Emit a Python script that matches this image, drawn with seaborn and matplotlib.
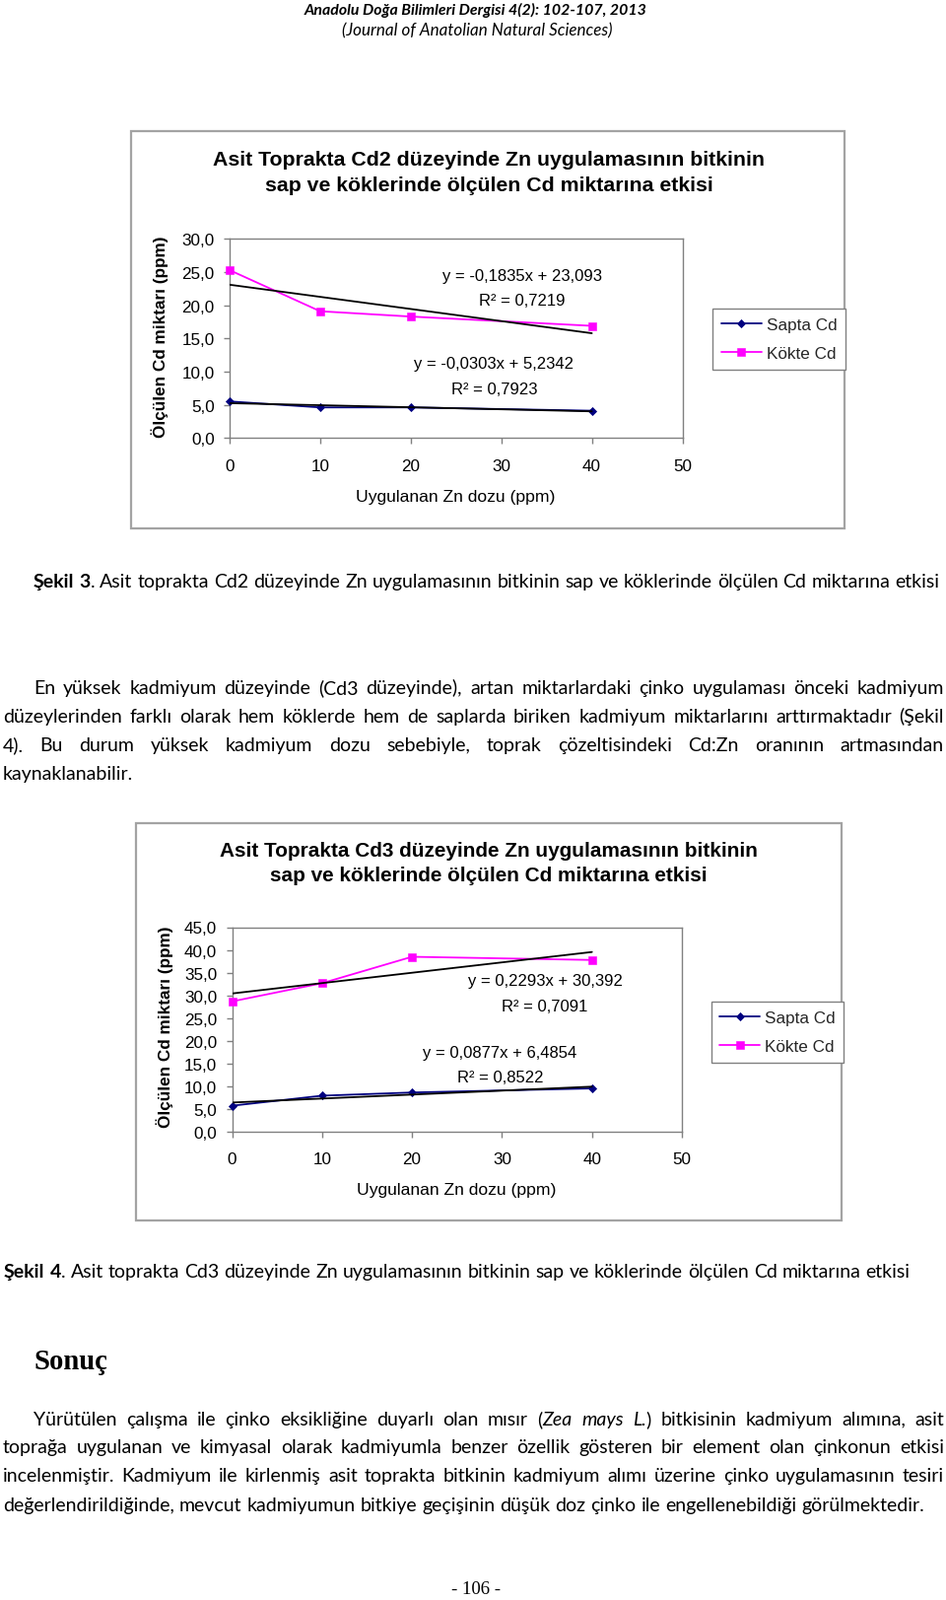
import re
import numpy as np
import pandas as pd
import matplotlib
matplotlib.use("Agg")
import matplotlib.pyplot as plt
from matplotlib.patches import Rectangle
import seaborn as sns

# ---------------- data ----------------
zn_doz = [0, 10, 20, 40]
seriler = ["Sapta Cd", "Kökte Cd"]
cd2_sapta = [5.5, 4.6, 4.6, 4.1]
cd2_kokte = [25.3, 19.1, 18.3, 16.9]
cd3_sapta = [5.8, 8.0, 8.7, 9.6]
cd3_kokte = [28.7, 32.7, 38.5, 37.8]

x_ticks = [0, 10, 20, 30, 40, 50]
x_tick_labels = ["0", "10", "20", "30", "40", "50"]
cd2_y_ticks = [0, 5, 10, 15, 20, 25, 30]
cd2_y_labels = ["0,0", "5,0", "10,0", "15,0", "20,0", "25,0", "30,0"]
cd3_y_ticks = [0, 5, 10, 15, 20, 25, 30, 35, 40, 45]
cd3_y_labels = ["0,0", "5,0", "10,0", "15,0", "20,0", "25,0", "30,0", "35,0", "40,0", "45,0"]

cd2_title = ["Asit Toprakta Cd2 düzeyinde Zn uygulamasının bitkinin",
             "sap ve köklerinde ölçülen Cd miktarına etkisi"]
cd3_title = ["Asit Toprakta Cd3 düzeyinde Zn uygulamasının bitkinin",
             "sap ve köklerinde ölçülen Cd miktarına etkisi"]
cd2_eq = ["y = -0,1835x + 23,093", "R² = 0,7219", "y = -0,0303x + 5,2342", "R² = 0,7923"]
cd3_eq = ["y = 0,2293x + 30,392", "R² = 0,7091", "y = 0,0877x + 6,4854", "R² = 0,8522"]
x_label = "Uygulanan Zn dozu (ppm)"
y_label = "Ölçülen Cd miktarı (ppm)"

# ---------------- page text ----------------
B = dict(weight="bold")
I = dict(style="italic")
N = {}
header1 = "Anadolu Doğa Bilimleri Dergisi 4(2): 102-107, 2013"
header2 = "(Journal of Anatolian Natural Sciences)"
caption3 = [("Şekil 3", B), (". Asit toprakta Cd2 düzeyinde Zn uygulamasının bitkinin sap ve köklerinde ölçülen Cd miktarına etkisi", N)]
caption4 = [("Şekil 4", B), (". Asit toprakta Cd3 düzeyinde Zn uygulamasının bitkinin sap ve köklerinde ölçülen Cd miktarına etkisi", N)]
para1 = [
    [("En yüksek kadmiyum düzeyinde (Cd3 düzeyinde), artan miktarlardaki çinko uygulaması önceki kadmiyum", N)],
    [("düzeylerinden farklı olarak hem köklerde hem de saplarda biriken kadmiyum miktarlarını arttırmaktadır (Şekil", N)],
    [("4). Bu durum yüksek kadmiyum dozu sebebiyle, toprak çözeltisindeki Cd:Zn oranının artmasından", N)],
    [("kaynaklanabilir.", N)],
]
heading = "Sonuç"
para2 = [
    [("Yürütülen çalışma ile çinko eksikliğine duyarlı olan mısır (", N), ("Zea mays L.", I), (") bitkisinin kadmiyum alımına, asit", N)],
    [("toprağa uygulanan ve kimyasal olarak kadmiyumla benzer özellik gösteren bir element olan çinkonun etkisi", N)],
    [("incelenmiştir. Kadmiyum ile kirlenmiş asit toprakta bitkinin kadmiyum alımı üzerine çinko uygulamasının tesiri", N)],
    [("değerlendirildiğinde, mevcut kadmiyumun bitkiye geçişinin düşük doz çinko ile engellenebildiği görülmektedir.", N)],
]
page_no = "- 106 -"

# ---------------- style ----------------
sns.set_theme(style="white")
plt.rcParams["font.family"] = ["Liberation Sans", "DejaVu Sans"]
NAVY = "#000080"
MAGENTA = "#FF00FF"
GRAY = "#808080"
BODY = dict(family=["Lato", "DejaVu Sans"], color="black")

W, H = 960, 1624
fig = plt.figure(figsize=(W / 100, H / 100), dpi=100)
fig.patch.set_facecolor("white")
R = fig.canvas.get_renderer()


def fx(x):
    return x / W


def fy(y):
    return 1 - y / H


def width_of(t):
    return t.get_window_extent(R).width


def fit_text(x, y, s, target_w, fs0=12, **kw):
    t = fig.text(fx(x), fy(y), s, fontsize=fs0, **kw)
    t.set_fontsize(fs0 * target_w / width_of(t))
    return t


def chart(L, sapta, kokte, yticks, ylabels, title, eqs):
    x0, y0, x1, y1 = L["frame"]
    fig.patches.append(Rectangle((fx(x0), fy(y1)), (x1 - x0) / W, (y1 - y0) / H,
                                 transform=fig.transFigure, fill=False,
                                 ec="#a3a3a3", lw=1.6, zorder=0))
    a0, b0, a1, b1 = L["axes"]
    ax = fig.add_axes([fx(a0), fy(b1), (a1 - a0) / W, (b1 - b0) / H])
    sns.lineplot(x=zn_doz, y=sapta, ax=ax, color=NAVY, marker="D", markersize=4.4,
                 markeredgecolor=NAVY, markeredgewidth=0.6, linewidth=1.3,
                 label=seriler[0], clip_on=False, zorder=3)
    sns.lineplot(x=zn_doz, y=kokte, ax=ax, color=MAGENTA, marker="s", markersize=5.8,
                 markeredgecolor=MAGENTA, markeredgewidth=0.4, linewidth=1.3,
                 label=seriler[1], clip_on=False, zorder=3)
    for vals in (sapta, kokte):
        sns.regplot(x=zn_doz, y=vals, ax=ax, scatter=False, ci=None, color="black",
                    truncate=True, line_kws=dict(linewidth=1.3, zorder=4))
    handles, labels = ax.get_legend_handles_labels()
    if ax.get_legend() is not None:
        ax.get_legend().remove()
    ax.set_xlim(x_ticks[0], x_ticks[-1])
    ax.set_ylim(yticks[0], yticks[-1])
    ax.set_xticks(x_ticks)
    ax.set_xticklabels(x_tick_labels)
    ax.set_yticks(yticks)
    ax.set_yticklabels(ylabels)
    ax.set_xlabel("")
    ax.set_ylabel("")
    ax.grid(False)
    ax.set_facecolor("white")
    for s in ax.spines.values():
        s.set_visible(True)
        s.set_color(GRAY)
        s.set_linewidth(1.0)
    ax.tick_params(axis="y", direction="out", length=4, width=1, color=GRAY,
                   pad=7, labelsize=12.3, labelcolor="black", left=True)
    ax.tick_params(axis="x", direction="out", length=4, width=1, color=GRAY,
                   pad=L["xpad"], labelsize=12.3, labelcolor="black", bottom=True)

    # titles
    t1 = fit_text(L["tx"], L["ty"][0], title[0], L["tw"], ha="center", va="center",
                  weight="bold", color="black")
    fig.text(fx(L["tx"]), fy(L["ty"][1]), title[1], fontsize=t1.get_fontsize(),
             ha="center", va="center", weight="bold", color="black")
    # axis labels
    fig.text(fx(L["ylab"][0]), fy(L["ylab"][1]), y_label, rotation=90, fontsize=12.3,
             weight="bold", ha="center", va="center", color="black")
    fig.text(fx(L["xlab"][0]), fy(L["xlab"][1]), x_label, fontsize=12.6,
             ha="center", va="center", color="black")
    # trend equations
    for s, (ex, ey) in zip(eqs, L["eq"]):
        fig.text(fx(ex), fy(ey), s, fontsize=12.0, ha="center", va="center", color="black")
    # legend
    leg = fig.legend(handles, labels, loc="upper left",
                     bbox_to_anchor=(fx(L["leg"][0]), fy(L["leg"][1])),
                     frameon=True, fancybox=False, edgecolor=GRAY, framealpha=1,
                     fontsize=12.3, handlelength=2.4, handletextpad=0.3,
                     borderpad=0.5, labelspacing=0.85, borderaxespad=0, numpoints=1)
    leg.get_frame().set_linewidth(1.0)
    return ax


L1 = dict(frame=(133, 134, 857, 537), axes=(233, 243.4, 692.5, 445.2), xpad=11,
          tx=496, ty=(162.3, 188.3), tw=556, ylab=(162, 342), xlab=(462, 505),
          eq=[(530, 280.5), (530, 305.7), (501.5, 369.3), (501.5, 395.5)],
          leg=(723, 314))
L2 = dict(frame=(138, 836, 854, 1238.5), axes=(235.5, 941.5, 692, 1149.4), xpad=10,
          tx=496, ty=(863.3, 888.3), tw=540, ylab=(167, 1042), xlab=(463, 1207.5),
          eq=[(553, 995.7), (552.5, 1021.5), (507, 1069), (508, 1093.3)],
          leg=(721.5, 1017))

chart(L1, cd2_sapta, cd2_kokte, cd2_y_ticks, cd2_y_labels, cd2_title, cd2_eq)
chart(L2, cd3_sapta, cd3_kokte, cd3_y_ticks, cd3_y_labels, cd3_title, cd3_eq)


# ---------------- body text with justification ----------------
def line_tokens(segments, fs):
    toks = []
    pending = False
    for txt, props in segments:
        for part in re.split(r"( +)", txt):
            if not part:
                continue
            if part.strip() == "":
                pending = True
                continue
            t = fig.text(0, 0, part, fontsize=fs, ha="left", va="baseline", **BODY, **props)
            toks.append([t, width_of(t), pending and bool(toks)])
            pending = False
    return toks


def space_w(fs):
    a = fig.text(0, 0, "n n", fontsize=fs, **BODY)
    b = fig.text(0, 0, "nn", fontsize=fs, **BODY)
    d = width_of(a) - width_of(b)
    a.remove()
    b.remove()
    return d


def natural_width(segments, fs):
    toks = line_tokens(segments, fs)
    w = sum(t[1] for t in toks) + sum(1 for t in toks if t[2]) * space_w(fs)
    for t in toks:
        t[0].remove()
    return w


def draw_line(segments, y, fs, x0, x1=None):
    """y is the visual centre of the line; text is placed on a common baseline."""
    base = y + 0.3 * fs * 100 / 72
    toks = line_tokens(segments, fs)
    nsp = sum(1 for t in toks if t[2])
    tot = sum(t[1] for t in toks)
    gap = (x1 - x0 - tot) / nsp if (x1 is not None and nsp) else space_w(fs)
    x = x0
    for t, w, sb in toks:
        if sb:
            x += gap
        t.set_position((fx(x), fy(base)))
        x += w
    return x


fs_body = 12 * 914 / natural_width(caption3, 12)

# header
fit_text(482.7, 10.7, header1, 347, ha="center", va="center", weight="bold", style="italic", **BODY)
fit_text(484, 31, header2, 272, ha="center", va="center", style="italic", **BODY)

draw_line(caption3, 590, fs_body, 34)
for i, (ln, y) in enumerate(zip(para1, [698.5, 727.5, 756.5, 785.5])):
    x0 = 34 if i == 0 else 3
    x1 = 958 if i < len(para1) - 1 else None
    draw_line(ln, y, fs_body, x0, x1)

draw_line(caption4, 1290.5, fs_body, 4)

fit_text(34, 1381.5, heading, 75, ha="left", va="center", weight="bold",
         family=["Liberation Serif", "DejaVu Serif"], color="black")

for i, (ln, y) in enumerate(zip(para2, [1440, 1468.5, 1497.5, 1527])):
    x0 = 34 if i == 0 else 3
    x1 = 958 if i < len(para2) - 1 else None
    draw_line(ln, y, fs_body, x0, x1)

fit_text(483, 1613, page_no, 50, ha="center", va="center",
         family=["Liberation Serif", "DejaVu Serif"], color="black")

fig.savefig("out.png", dpi=100, facecolor="white")
